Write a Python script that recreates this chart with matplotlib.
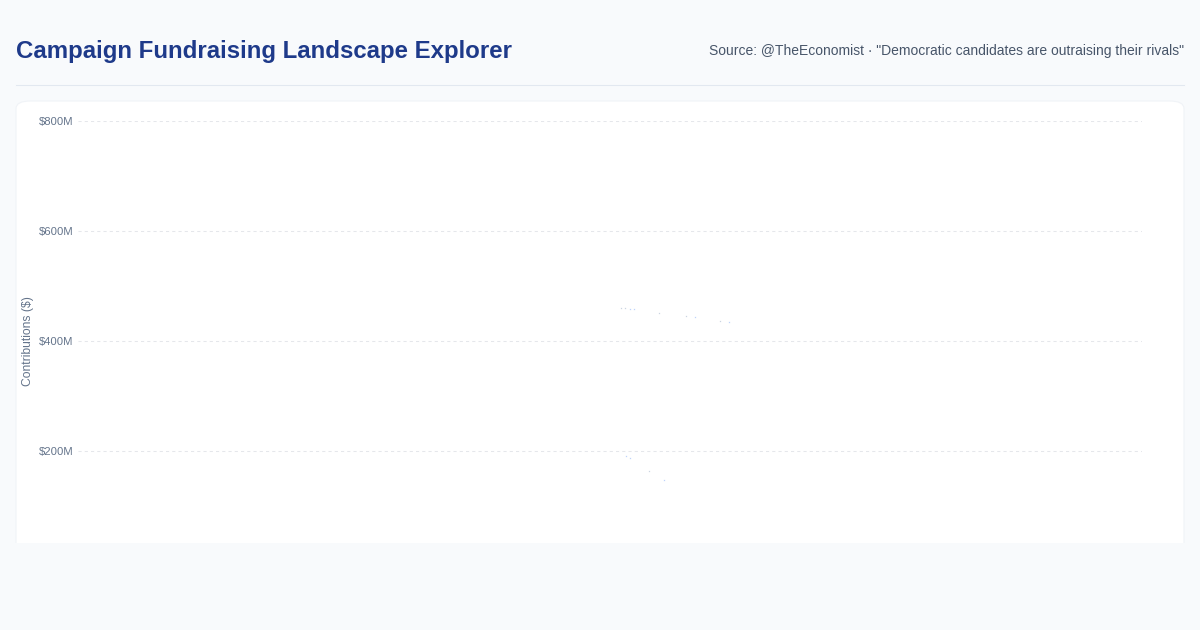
import matplotlib.pyplot as plt
from matplotlib.patches import FancyBboxPatch, Rectangle
from matplotlib.lines import Line2D
from matplotlib.ticker import FuncFormatter

plt.rcParams['font.family'] = ['Liberation Sans', 'DejaVu Sans']

# days since campaign start, contributions in $M
grey_days = [510.6, 514.4, 546.3, 571.7, 603.7, 536.9]
grey_vals = [459.4, 459.4, 450.4, 444.9, 435.8, 163.1]
blue_days = [519.1, 522.8, 580.2, 612.1, 515.3, 519.1, 551.0]
blue_vals = [457.6, 457.6, 443.1, 434.0, 190.4, 186.7, 146.7]
y_ticks = [200, 400, 600, 800]

W, H = 1200, 630
fig = plt.figure(figsize=(12, 6.3), dpi=100)
fig.patch.set_facecolor('#f8fafc')

def fx(px):
    return px / W

def fy(py):
    return 1 - py / H

fig.text(fx(16), fy(51.5), 'Campaign Fundraising Landscape Explorer',
         fontsize=17.3, fontweight='bold', color='#1e3a8a', va='center', ha='left')
fig.text(fx(1184), fy(51.5),
         'Source: @TheEconomist \u00b7 "Democratic candidates are outraising their rivals"',
         fontsize=10, color='#475569', va='center', ha='right')
fig.add_artist(Line2D([fx(16), fx(1184)], [fy(84.5), fy(84.5)],
                      color='#e2e8f0', linewidth=0.75))

# white card (cut off at the bottom)
card = FancyBboxPatch((fx(16), fy(600)), fx(1168), (600 - 101) / H,
                      boxstyle='round,pad=0,rounding_size=0.012',
                      facecolor='white', edgecolor='#f0f3f7', linewidth=0.8,
                      transform=fig.transFigure, zorder=0)
fig.add_artist(card)
fig.add_artist(Rectangle((0, 0), 1, fy(543), facecolor='#f8fafc',
                         edgecolor='none', transform=fig.transFigure, zorder=5))

ax = fig.add_axes([fx(78), fy(543), fx(1142 - 78), (543 - 121) / H])
ax.set_facecolor('none')
ax.set_xlim(0, 1000)
ax.set_ylim(32.7, 800)

ax.plot(grey_days, grey_vals, linestyle='none', marker='s', markersize=0.9,
        markeredgewidth=0, color='#cbd5e1')
ax.plot(blue_days, blue_vals, linestyle='none', marker='s', markersize=0.9,
        markeredgewidth=0, color='#bfd3fb')

ax.set_yticks(y_ticks)
ax.yaxis.set_major_formatter(FuncFormatter(lambda v, p: f'${v:.0f}M'))
ax.set_xticks([])
ax.tick_params(axis='y', length=0, pad=3.3, labelsize=8.1, labelcolor='#64748b')
ax.grid(axis='y', color='#e5e7eb', linestyle=(0, (3, 3)), linewidth=0.75)
for s in ax.spines.values():
    s.set_visible(False)

fig.text(fx(28.5), fy(341), 'Contributions ($)', rotation=90, fontsize=8.7,
         color='#64748b', ha='center', va='center')

fig.savefig('out.png', dpi=100, facecolor=fig.get_facecolor())
